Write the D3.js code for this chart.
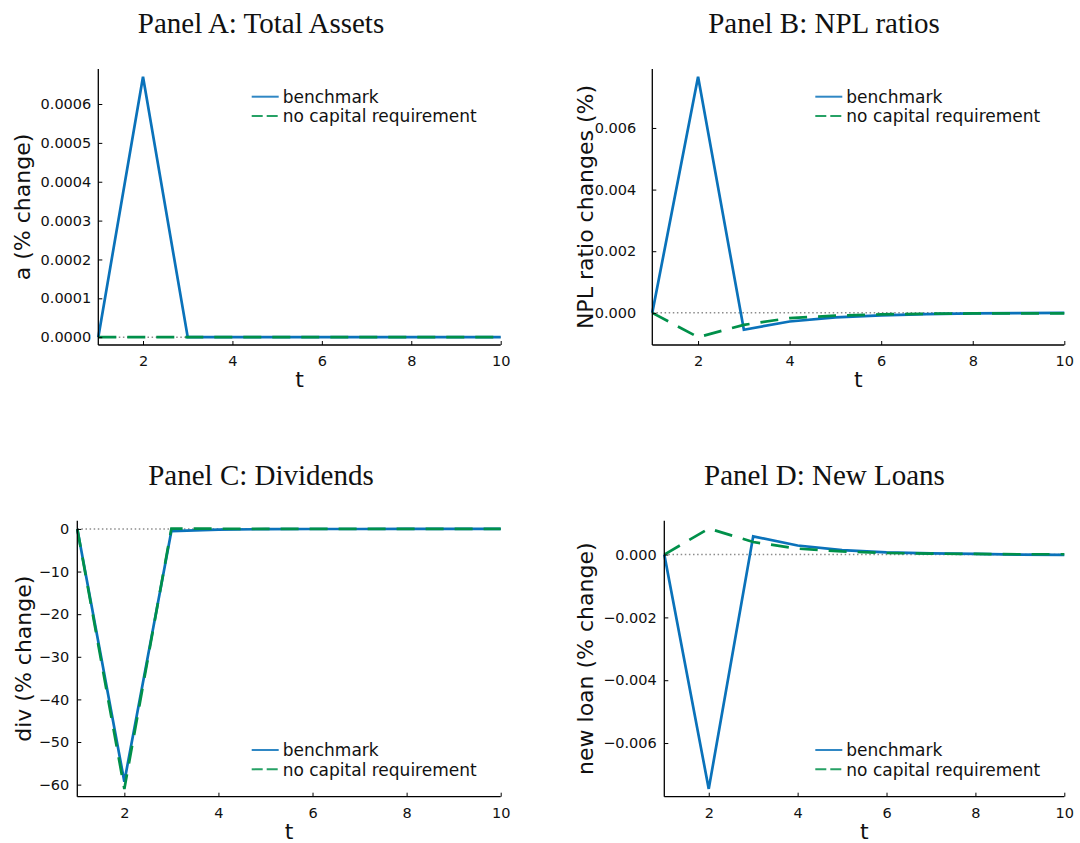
<!DOCTYPE html>
<html>
<head>
<meta charset="utf-8">
<script src="https://cdn.jsdelivr.net/npm/d3@7"></script>
<style>
  body { margin: 0; background: #fff; }
  svg { display: block; }
</style>
</head>
<body>
<svg id="chart" width="1080" height="843"></svg>
<script>
// Impulse responses over t = 1..10
const periods = [1, 2, 3, 4, 5, 6, 7, 8, 9, 10];
const seriesNames = ["benchmark", "no capital requirement"];

// Panel A: total assets (% change)
const assetsBenchmark = [0, 0.00067, 0, 0, 0, 0, 0, 0, 0, 0];
const assetsNoCap     = [0, 0, 0, 0, 0, 0, 0, 0, 0, 0];
const assetsTicks     = [0, 0.0001, 0.0002, 0.0003, 0.0004, 0.0005, 0.0006];

// Panel B: NPL ratio changes (%)
const nplBenchmark = [0, 0.00766, -0.00055, -0.00028, -0.00015, -0.00008, -0.00004, -0.00002, -0.00001, 0.00000];
const nplNoCap     = [0, -0.00079, -0.00039, -0.00017, -0.00009, -0.00005, -0.00003, -0.00002, -0.00002, -0.00002];
const nplTicks     = [0, 0.002, 0.004, 0.006];

// Panel C: dividends (% change)
const divBenchmark = [0, -59.3, -0.5, -0.15, -0.05, -0.02, -0.01, 0, 0, 0];
const divNoCap     = [0, -61.0, 0.1, 0.05, 0.02, 0.01, 0, 0, 0, 0];
const divTicks     = [-60, -50, -40, -30, -20, -10, 0];

// Panel D: new loans (% change)
const loanBenchmark = [0, -0.00746, 0.00058, 0.00029, 0.00014, 0.00007, 0.00004, 0.00002, 0.00000, -0.00001];
const loanNoCap     = [0, 0.00083, 0.00040, 0.00019, 0.00010, 0.00005, 0.00003, 0.00002, 0.00001, 0.00001];
const loanTicks     = [-0.006, -0.004, -0.002, 0];

const xTicks = [2, 4, 6, 8, 10];

const BLUE = "#0A72BA";
const GREEN = "#00904A";
const SANS = "DejaVu Sans, sans-serif";
const SERIF = "Liberation Serif, Times New Roman, serif";

const panels = [
  { title: "Panel A: Total Assets", ylabel: "a (% change)", bench: assetsBenchmark, nocap: assetsNoCap,
    ticks: assetsTicks, fmt: d3.format(".4f"), legend: "top",
    left: 98.3, right: 500.7, top: 69, bottom: 345, titleX: 261, ylabelX: 29.5, tickPad: 7 },
  { title: "Panel B: NPL ratios", ylabel: "NPL ratio changes (%)", bench: nplBenchmark, nocap: nplNoCap,
    ticks: nplTicks, fmt: d3.format(".3f"), legend: "top",
    left: 652.3, right: 1064.3, top: 69, bottom: 345, titleX: 824, ylabelX: 593, tickPad: 16 },
  { title: "Panel C: Dividends", ylabel: "div (% change)", bench: divBenchmark, nocap: divNoCap,
    ticks: divTicks, fmt: d3.format("d"), legend: "bottom",
    left: 77.3, right: 500.7, top: 520.7, bottom: 796.7, titleX: 261, ylabelX: 30.7, tickPad: 8 },
  { title: "Panel D: New Loans", ylabel: "new loan (% change)", bench: loanBenchmark, nocap: loanNoCap,
    ticks: loanTicks, fmt: d3.format(".3f"), legend: "bottom",
    left: 664.3, right: 1064.3, top: 520.7, bottom: 796.7, titleX: 824.5, ylabelX: 593.3, tickPad: 7.5 }
];

const svg = d3.select("#chart");

panels.forEach(p => {
  const g = svg.append("g");

  const x = d3.scaleLinear().domain([1, 10]).range([p.left, p.right]);
  const lo = d3.min(p.bench.concat(p.nocap));
  const hi = d3.max(p.bench.concat(p.nocap));
  const pad = (hi - lo) * 0.03;
  const y = d3.scaleLinear().domain([lo - pad, hi + pad]).range([p.bottom, p.top]);

  // title
  g.append("text")
    .attr("x", p.titleX).attr("y", p.top - 36)
    .attr("text-anchor", "middle")
    .attr("font-family", SERIF).attr("font-size", 29).attr("fill", "#111")
    .text(p.title);

  // zero reference line
  g.append("line")
    .attr("x1", x(1)).attr("x2", x(10))
    .attr("y1", y(0)).attr("y2", y(0))
    .attr("stroke", "#8c8c8c").attr("stroke-width", 1.5)
    .attr("stroke-dasharray", "1.5,2.6");

  const line = d3.line().x((d, i) => x(periods[i])).y(d => y(d));

  g.append("path").datum(p.bench)
    .attr("d", line).attr("fill", "none")
    .attr("stroke", BLUE).attr("stroke-width", 2.7)
    .attr("stroke-linejoin", "miter");

  g.append("path").datum(p.nocap)
    .attr("d", line).attr("fill", "none")
    .attr("stroke", GREEN).attr("stroke-width", 2.7)
    .attr("stroke-dasharray", "18,11");

  // axes: ticks point inward
  const xAxis = d3.axisBottom(x).tickValues(xTicks).tickSizeInner(-4).tickSizeOuter(0)
    .tickPadding(11).tickFormat(d3.format("d"));
  const gx = g.append("g").attr("transform", `translate(0,${p.bottom})`).call(xAxis);

  const yAxis = d3.axisLeft(y).tickValues(p.ticks).tickSizeInner(-4).tickSizeOuter(0)
    .tickPadding(p.tickPad).tickFormat(p.fmt);
  const gy = g.append("g").attr("transform", `translate(${p.left},0)`).call(yAxis);

  [gx, gy].forEach(ax => {
    ax.select(".domain").attr("stroke", "#000").attr("stroke-width", 1.3);
    ax.selectAll(".tick line").attr("stroke", "#000").attr("stroke-width", 1);
    ax.selectAll(".tick text").attr("font-family", SANS).attr("font-size", 14.5).attr("fill", "#111");
  });
  // y axis extends across the whole plot height
  gy.select(".domain").attr("d", `M0,${p.bottom}V${p.top}`);
  gx.select(".domain").attr("d", `M${p.left},0H${p.right}`);

  // axis labels
  g.append("text")
    .attr("x", (p.left + p.right) / 2).attr("y", p.bottom + 42)
    .attr("text-anchor", "middle")
    .attr("font-family", SANS).attr("font-size", 22).attr("fill", "#111")
    .text("t");

  g.append("text")
    .attr("transform", `translate(${p.ylabelX},${(p.top + p.bottom) / 2}) rotate(-90)`)
    .attr("text-anchor", "middle")
    .attr("font-family", SANS).attr("font-size", 22).attr("fill", "#111")
    .text(p.ylabel);

  // legend
  const lx = p.right - 249;
  const rows = p.legend === "top" ? [p.top + 27.7, p.top + 47] : [p.bottom - 46.7, p.bottom - 27.4];
  const styles = [
    { color: BLUE, dash: null },
    { color: GREEN, dash: "11,4" }
  ];
  seriesNames.forEach((name, i) => {
    g.append("line")
      .attr("x1", lx).attr("x2", lx + 27)
      .attr("y1", rows[i]).attr("y2", rows[i])
      .attr("stroke", styles[i].color).attr("stroke-width", 2)
      .attr("stroke-opacity", 0.85)
      .attr("stroke-dasharray", styles[i].dash);
    g.append("text")
      .attr("x", lx + 31).attr("y", rows[i] + 6.3)
      .attr("font-family", SANS).attr("font-size", 17).attr("fill", "#111")
      .text(name);
  });
});
</script>
</body>
</html>
